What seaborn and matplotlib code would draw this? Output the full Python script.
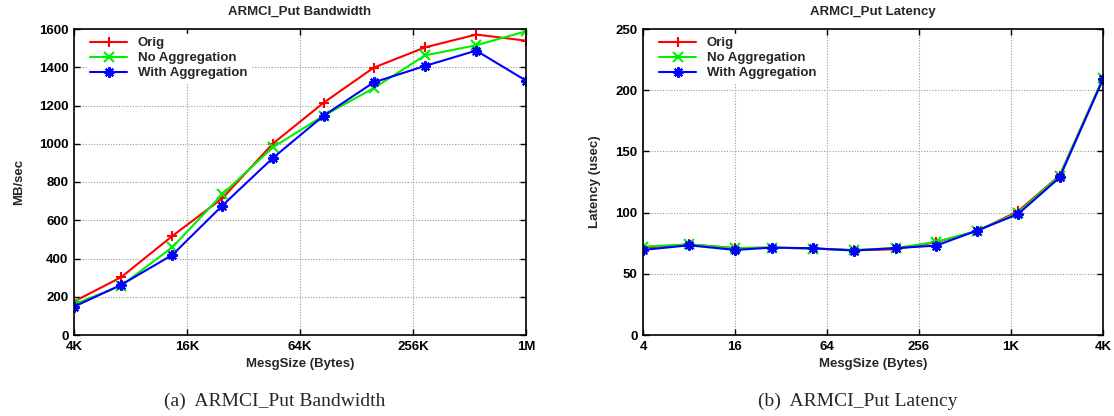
import matplotlib
matplotlib.use("Agg")
import matplotlib.pyplot as plt
import seaborn as sns

# bandwidth chart (a)
bw_sizes = [4096, 7300, 13700, 25300, 46900, 87700, 162000, 304000, 569000, 1048576]
bw_orig = [175, 302, 518, 715, 1000, 1215, 1398, 1504, 1571, 1539]
bw_noagg = [160, 258, 459, 736, 981, 1147, 1291, 1462, 1515, 1588]
bw_agg = [148, 262, 419, 677, 925, 1147, 1321, 1407, 1487, 1330]
bw_ticks = [4096, 16384, 65536, 262144, 1048576]
bw_ticklabels = ["4K", "16K", "64K", "256K", "1M"]

# latency chart (b)
lat_sizes = [4, 8, 16, 28, 52, 96, 180, 331, 613, 1136, 2132, 4096]
lat_orig = [71.4, 74, 71, 71.4, 70.6, 69.2, 70, 75.8, 84.8, 101, 130.3, 209.4]
lat_noagg = [72.2, 74, 71, 71.4, 70.6, 69.5, 71, 76, 85, 100, 130, 210]
lat_agg = [69.5, 73.3, 69.5, 71.4, 70.9, 69, 71, 73, 85.3, 98.7, 128.7, 209]
lat_ticks = [4, 16, 64, 256, 1024, 4096]
lat_ticklabels = ["4", "16", "64", "256", "1K", "4K"]

series_names = ["Orig", "No Aggregation", "With Aggregation"]
series_colors = ["#ff0000", "#00ee00", "#0000ff"]
series_markers = ["+", "x", (8, 2, 0)]

sns.set_theme(style="white")
plt.rcParams["font.family"] = ["Liberation Sans", "DejaVu Sans"]
plt.rcParams["font.weight"] = "bold"

fig = plt.figure(figsize=(11.14, 4.16), dpi=100)
ax1 = fig.add_axes([74 / 1114, 1 - 335 / 416, 452 / 1114, 306 / 416])
ax2 = fig.add_axes([643 / 1114, 1 - 335 / 416, 460 / 1114, 306 / 416])


def draw(ax, sizes, ys, ticks, ticklabels, ylim, ystep, title, ylabel):
    for name, y, c, m in zip(series_names, ys, series_colors, series_markers):
        sns.lineplot(x=sizes, y=y, ax=ax, color=c, marker=m, markersize=7.5,
                     markeredgewidth=1.5, markeredgecolor=c, linewidth=1.5,
                     label=name)
    ax.set_xscale("log", base=2)
    ax.set_xlim(ticks[0], ticks[-1])
    ax.set_xticks(ticks)
    ax.set_xticklabels(ticklabels)
    ax.minorticks_off()
    ax.set_ylim(*ylim)
    ax.set_yticks(range(ylim[0], ylim[1] + 1, ystep))
    ax.tick_params(axis="both", direction="in", length=4, labelsize=9.5,
                   width=1, colors="black", pad=4, bottom=True, left=True,
                   top=True, right=True, labeltop=False, labelright=False)
    for lab in ax.get_xticklabels() + ax.get_yticklabels():
        lab.set_fontweight("bold")
    ax.grid(True, color="#999999", linestyle=(0, (1, 1.5)), linewidth=0.8)
    for sp in ax.spines.values():
        sp.set_color("black")
        sp.set_linewidth(1.2)
    ax.set_title(title, fontsize=9.5, fontweight="bold", pad=10)
    ax.set_xlabel("MesgSize (Bytes)", fontsize=9.5, fontweight="bold", labelpad=4)
    ax.set_ylabel(ylabel, fontsize=9.5, fontweight="bold", labelpad=10)
    leg = ax.legend(loc="upper left", bbox_to_anchor=(0.027, 0.987), frameon=True,
                    fontsize=9.5, handlelength=2.8, borderpad=0.2,
                    labelspacing=0.22, borderaxespad=0.1, handletextpad=0.8)
    leg.get_frame().set_edgecolor("white")
    leg.get_frame().set_facecolor("white")
    leg.get_frame().set_alpha(1)
    for t in leg.get_texts():
        t.set_fontweight("bold")


draw(ax1, bw_sizes, [bw_orig, bw_noagg, bw_agg], bw_ticks, bw_ticklabels,
     (0, 1600), 200, "ARMCI_Put Bandwidth", "MB/sec")
draw(ax2, lat_sizes, [lat_orig, lat_noagg, lat_agg], lat_ticks, lat_ticklabels,
     (0, 250), 50, "ARMCI_Put Latency", "Latency (usec)")

fig.text(275 / 1114, 1 - 401 / 416, "(a)  ARMCI_Put Bandwidth", ha="center",
         va="center", fontsize=14, fontweight="normal",
         family=["Liberation Serif", "DejaVu Serif"])
fig.text(858 / 1114, 1 - 401 / 416, "(b)  ARMCI_Put Latency", ha="center",
         va="center", fontsize=14, fontweight="normal",
         family=["Liberation Serif", "DejaVu Serif"])

fig.savefig("out.png", dpi=100)
